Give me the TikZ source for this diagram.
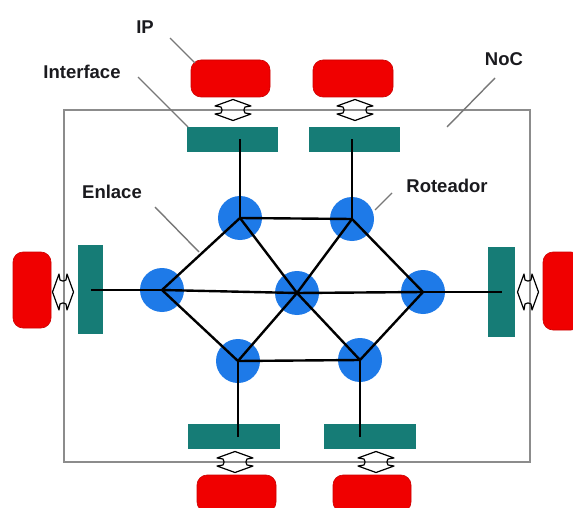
\documentclass[tikz,border=0pt]{standalone}
\usepackage{fontspec}
\setmainfont{Liberation Sans}
\definecolor{routerblue}{RGB}{30,122,232}
\definecolor{ifteal}{RGB}{22,124,118}
\definecolor{ipred}{RGB}{240,0,0}
\definecolor{ipredline}{RGB}{205,0,0}
\definecolor{bordergray}{RGB}{140,140,140}
\definecolor{leadergray}{RGB}{120,120,120}
\definecolor{txt}{RGB}{26,26,30}
\tikzset{
  router/.style={circle, fill=routerblue, minimum size=44pt, inner sep=0pt},
  iface/.style={rectangle, fill=ifteal, inner sep=0pt},
  ipbox/.style={rectangle, rounded corners=10pt, fill=ipred, draw=ipredline, line width=0.6pt, inner sep=0pt},
  link/.style={black, line width=2.4pt},
  leader/.style={leadergray, line width=1.4pt},
  lbl/.style={font=\bfseries\fontsize{18.5}{20}\selectfont, text=txt, inner sep=0pt},
  dblarrow/.pic={\draw[black, line width=1.2pt, line join=round] (0,-10.5) -- (18,-4) -- (12,-3) .. controls (10.5,0) .. (12,3) -- (18,4) -- (0,10.5) -- (-18,4) -- (-12,3) .. controls (-10.5,0) .. (-12,-3) -- (-18,-4) -- cycle;}
}
\begin{document}
\begin{tikzpicture}[x=1pt,y=-1pt]
\useasboundingbox (0,0) rectangle (573,508);
\clip (0,0) rectangle (573,508);
\fill[white] (0,0) rectangle (573,508);

% NoC border
\draw[bordergray, line width=2.6pt] (64,110) rectangle (530,462);

% IP blocks
\node[ipbox, minimum width=79pt, minimum height=37pt] (p1) at (230.5,78.5) {};
\node[ipbox, minimum width=80pt, minimum height=37pt] (p2) at (353,78.5) {};
\node[ipbox, minimum width=38pt, minimum height=76pt] (p3) at (32,290) {};
\node[ipbox, minimum width=38pt, minimum height=78pt] (p4) at (562,291) {};
\node[ipbox, minimum width=79pt, minimum height=37pt] (p5) at (236.5,493.5) {};
\node[ipbox, minimum width=78pt, minimum height=37pt] (p6) at (372,493.5) {};

% double arrows
\pic at (233,110) {dblarrow};
\pic at (355,110) {dblarrow};
\pic[rotate=90] at (63,292) {dblarrow};
\pic[rotate=90] at (528,292) {dblarrow};
\pic at (235,462) {dblarrow};
\pic at (376,462) {dblarrow};

% interfaces
\node[iface, minimum width=91pt, minimum height=25pt] (i1) at (232,139.5) {};
\node[iface, minimum width=91pt, minimum height=25pt] (i2) at (354.5,139.5) {};
\node[iface, minimum width=25pt, minimum height=89pt] (i3) at (90.5,289) {};
\node[iface, minimum width=27pt, minimum height=90pt] (i4) at (501.5,292) {};
\node[iface, minimum width=92pt, minimum height=25pt] (i5) at (234,436.5) {};
\node[iface, minimum width=92pt, minimum height=25pt] (i6) at (370,436.5) {};

% routers
\node[router] (r1) at (240,218) {};
\node[router] (r2) at (352,219) {};
\node[router] (r3) at (162,290) {};
\node[router] (r4) at (297,293) {};
\node[router] (r5) at (423,292) {};
\node[router] (r6) at (238,361) {};
\node[router] (r7) at (360,360) {};

% links
\draw[link] (r1.center) -- (r2.center);
\draw[link] (r1.center) -- (r3.center);
\draw[link] (r1.center) -- (r4.center);
\draw[link] (r4.center) -- (r7.center);
\draw[link] (r2.center) -- (r4.center);
\draw[link] (r4.center) -- (r6.center);
\draw[link] (r2.center) -- (r5.center);
\draw[link] (r3.center) -- (r4.center);
\draw[link] (r4.center) -- (r5.center);
\draw[link] (r3.center) -- (r6.center);
\draw[link] (r6.center) -- (r7.center);
\draw[link] (r5.center) -- (r7.center);
\draw[link] (r1.center) -- (r1.center |- i1.center);
\draw[link] (r2.center) -- (r2.center |- i2.center);
\draw[link] (r3.center) -- (r3.center -| i3.center);
\draw[link] (r5.center) -- (r5.center -| i4.center);
\draw[link] (r6.center) -- (r6.center |- i5.center);
\draw[link] (r7.center) -- (r7.center |- i6.center);

% labels
\node[lbl, anchor=base] (tIP) at (145,34) {IP};
\node[lbl, anchor=base] (tIf) at (82,79) {Interface};
\node[lbl, anchor=base] (tNoC) at (504,66) {NoC};
\node[lbl, anchor=base] (tEn) at (112,198) {Enlace};
\node[lbl, anchor=base] (tRo) at (447,193) {Roteador};

% leader lines
\coordinate (aIP) at (170,38);   \coordinate (bIP) at (195,63);
\coordinate (aIf) at (138,77);   \coordinate (bIf) at (188,127);
\coordinate (aNoC) at (495,78);  \coordinate (bNoC) at (447,127);
\coordinate (aEn) at (155,207);  \coordinate (bEn) at (199,252);
\coordinate (aRo) at (392,193);  \coordinate (bRo) at (375,210);
\draw[leader] (aIP) -- (bIP);
\draw[leader] (aIf) -- (bIf);
\draw[leader] (aNoC) -- (bNoC);
\draw[leader] (aEn) -- (bEn);
\draw[leader] (aRo) -- (bRo);
\end{tikzpicture}
\end{document}
